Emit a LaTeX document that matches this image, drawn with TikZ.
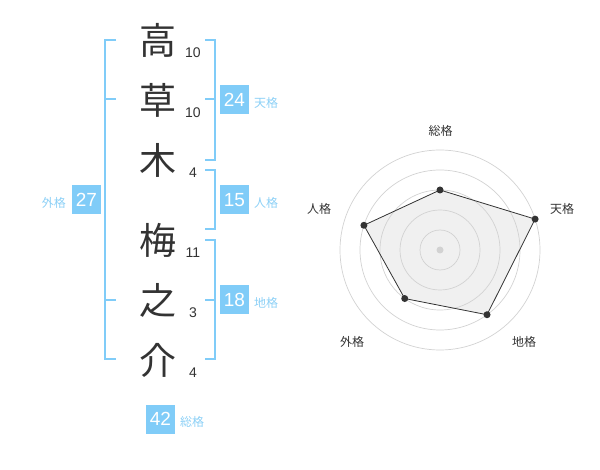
\documentclass[tikz,border=0pt]{standalone}
\usepackage{fontspec}
\setmainfont{Noto Sans CJK JP}
\newfontfamily\numfont{Liberation Sans}
\definecolor{kakublue}{RGB}{128,204,248}
\definecolor{kakutext}{RGB}{140,208,246}
\definecolor{inkgray}{RGB}{51,51,51}
\definecolor{ringgray}{RGB}{210,210,210}
\definecolor{chartfill}{RGB}{240,240,240}
\begin{document}
\begin{tikzpicture}[x=1pt, y=-1pt,
    kanji/.style={inner sep=0pt, text=inkgray, font=\fontsize{37}{37}\selectfont},
    stroke num/.style={inner sep=0pt, text=inkgray, font=\numfont\fontsize{14}{14}\selectfont},
    kaku box/.style={fill=kakublue, text=white, minimum size=29pt, inner sep=0pt, font=\numfont\fontsize{19}{19}\selectfont},
    kaku label/.style={inner sep=0pt, text=kakutext, font=\fontsize{12}{12}\selectfont},
    bracket/.style={draw=kakublue, line width=2pt},
    axis label/.style={inner sep=0pt, text=inkgray, font=\fontsize{12}{12}\selectfont},
    vertex/.style={circle, fill=inkgray, inner sep=0pt, minimum size=7pt}]
  \useasboundingbox (0,0) rectangle (600,470);

  % name and stroke counts
  \node[kanji] (k1) at (158,40) {高};
  \node[kanji] (k2) at (158,100) {草};
  \node[kanji] (k3) at (158,160) {木};
  \node[kanji] (k4) at (158,240) {梅};
  \node[kanji] (k5) at (158,300) {之};
  \node[kanji] (k6) at (158,360) {介};
  \node[stroke num] (n1) at (193,53) {10};
  \node[stroke num] (n2) at (193,113) {10};
  \node[stroke num] (n3) at (193,173) {4};
  \node[stroke num] (n4) at (193,253) {11};
  \node[stroke num] (n5) at (193,313) {3};
  \node[stroke num] (n6) at (193,373) {4};

  % brackets
  \draw[bracket] (116,40) -- (105,40) -- (105,359) -- (116,359);
  \draw[bracket] (105,99) -- (116,99);
  \draw[bracket] (105,300) -- (116,300);
  \draw[bracket] (205,40) -- (215,40) -- (215,160) -- (205,160);
  \draw[bracket] (215,99) -- (205,99);
  \draw[bracket] (205,170) -- (215,170) -- (215,229) -- (205,229);
  \draw[bracket] (205,240) -- (215,240) -- (215,359) -- (205,359);
  \draw[bracket] (215,300) -- (205,300);

  % kaku values
  \node[kaku box] (ten) at (234.5,100) {24};
  \node[kaku label, anchor=west] at (254,103) {天格};
  \node[kaku box] (jin) at (234.5,200) {15};
  \node[kaku label, anchor=west] at (254,203) {人格};
  \node[kaku box] (chi) at (234.5,300) {18};
  \node[kaku label, anchor=west] at (254,303) {地格};
  \node[kaku box] (gai) at (86.5,200) {27};
  \node[kaku label, anchor=east] at (66,203) {外格};
  \node[kaku box] (sou) at (160.5,419) {42};
  \node[kaku label, anchor=west] at (180,422) {総格};

  % radar chart
  \coordinate (c) at (440,250);
  \path (c) ++(-90:60) coordinate (p-sou)
        (c) ++(-18:100) coordinate (p-ten)
        (c) ++(54:80) coordinate (p-chi)
        (c) ++(126:60) coordinate (p-gai)
        (c) ++(-162:80) coordinate (p-jin);
  \fill[chartfill] (p-sou) -- (p-ten) -- (p-chi) -- (p-gai) -- (p-jin) -- cycle;
  \foreach \r in {20,40,...,100}
    \draw[ringgray, line width=0.7pt] (c) circle (\r pt);
  \fill[ringgray] (c) circle (3.5pt);
  \draw[inkgray, line width=0.8pt] (p-sou) -- (p-ten) -- (p-chi) -- (p-gai) -- (p-jin) -- cycle;
  \foreach \p in {sou,ten,chi,gai,jin}
    \node[vertex] at (p-\p) {};
  \node[axis label] (l-sou) at (440.5,131) {総格};
  \node[axis label] (l-ten) at (562,209) {天格};
  \node[axis label] (l-chi) at (524,342) {地格};
  \node[axis label] (l-gai) at (352,342) {外格};
  \node[axis label] (l-jin) at (319,209) {人格};
\end{tikzpicture}
\end{document}
